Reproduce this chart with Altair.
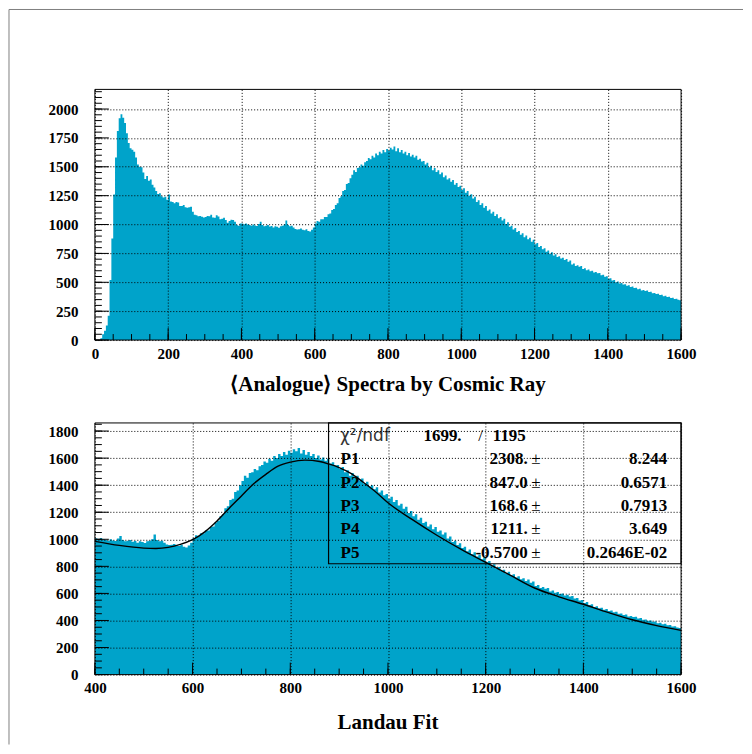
import altair as alt
import pandas as pd

# ---------------- data ----------------
BIN_WIDTH = 5  # ADC units per bin (coarsened)

c0000 = [0, 0, 0, 15, 50, 80, 125, 210, 520, 880, 1260, 1580, 1810, 1920, 1955, 1925, 1880, 1790, 1705, 1660]
c0100 = [1648, 1630, 1580, 1520, 1500, 1495, 1450, 1395, 1420, 1380, 1390, 1345, 1320, 1290, 1265, 1270, 1245, 1235, 1240, 1215]
c0200 = [1260, 1200, 1195, 1185, 1195, 1190, 1160, 1160, 1170, 1150, 1145, 1150, 1155, 1110, 1085, 1080, 1072, 1075, 1068, 1060]
c0300 = [1065, 1075, 1072, 1085, 1060, 1058, 1080, 1070, 1045, 1050, 1058, 1040, 1015, 1030, 1042, 1040, 1025, 995, 990, 1010]
c0400 = [1008, 1002, 1010, 1000, 995, 990, 1000, 992, 988, 1005, 1025, 995, 985, 990, 995, 982, 988, 975, 985, 980]
c0500 = [972, 985, 990, 1000, 1035, 995, 985, 990, 975, 962, 958, 960, 965, 955, 950, 960, 945, 940, 955, 975]
c0600 = [1010, 1030, 1025, 1045, 1045, 1065, 1065, 1090, 1095, 1125, 1135, 1170, 1185, 1230, 1245, 1290, 1300, 1350, 1360, 1400]
c0700 = [1430, 1470, 1455, 1490, 1495, 1520, 1510, 1540, 1550, 1575, 1565, 1595, 1580, 1615, 1600, 1630, 1615, 1645, 1625, 1655]
c0800 = [1640, 1665, 1650, 1675, 1635, 1660, 1625, 1645, 1615, 1630, 1600, 1620, 1590, 1605, 1580, 1595, 1560, 1570, 1545, 1550]
c0900 = [1520, 1535, 1495, 1510, 1470, 1490, 1455, 1470, 1435, 1450, 1410, 1425, 1390, 1400, 1370, 1385, 1345, 1360, 1325, 1335]
c1000 = [1300, 1315, 1275, 1290, 1250, 1262, 1225, 1240, 1195, 1210, 1170, 1185, 1145, 1160, 1120, 1130, 1095, 1110, 1075, 1090]
c1100 = [1055, 1065, 1035, 1050, 1005, 1020, 980, 990, 958, 970, 935, 945, 912, 925, 890, 905, 872, 885, 852, 868]
c1200 = [830, 840, 805, 815, 785, 795, 765, 775, 748, 760, 732, 742, 718, 726, 705, 712, 692, 702, 678, 688]
c1300 = [655, 662, 640, 648, 635, 640, 615, 622, 605, 610, 595, 600, 585, 590, 578, 580, 562, 566, 548, 552]
c1400 = [530, 536, 515, 520, 500, 506, 490, 494, 480, 484, 470, 474, 460, 464, 450, 452, 440, 444, 430, 434]
c1500 = [425, 428, 415, 418, 405, 408, 398, 400, 390, 392, 380, 383, 372, 375, 365, 367, 355, 358, 348, 345]

counts = (c0000 + c0100 + c0200 + c0300 + c0400 + c0500 + c0600 + c0700
          + c0800 + c0900 + c1000 + c1100 + c1200 + c1300 + c1400 + c1500)

# Landau fit curve
fit_x = [400, 450, 500, 525, 550, 575, 600, 625, 650, 675, 700, 725, 750, 775, 800, 830, 860,
         880, 900, 925, 950, 975, 1000, 1050, 1100, 1150, 1200, 1250, 1300, 1350, 1400, 1450,
         1500, 1550, 1600]
fit_y = [985, 955, 935, 932, 940, 962, 997, 1055, 1135, 1230, 1320, 1410, 1480, 1540, 1570, 1585,
         1575, 1555, 1530, 1485, 1420, 1350, 1270, 1145, 1030, 925, 830, 735, 640, 575, 520, 460,
         405, 362, 327]

# stats box
chi_label = "χ²/ndf"
chi_value = "1699."
ndf_value = "1195"
par_names = ["P1", "P2", "P3", "P4", "P5"]
par_values = ["2308.", "847.0", "168.6", "1211.", "-0.5700"]
par_errors = ["8.244", "0.6571", "0.7913", "3.649", "0.2646E-02"]

# axes
top_x_ticks = [0, 200, 400, 600, 800, 1000, 1200, 1400, 1600]
top_y_ticks = [0, 250, 500, 750, 1000, 1250, 1500, 1750, 2000]
bot_x_ticks = [400, 600, 800, 1000, 1200, 1400, 1600]
bot_y_ticks = [0, 200, 400, 600, 800, 1000, 1200, 1400, 1600, 1800]
top_x_minor = list(range(0, 1601, 50))
top_y_minor = list(range(0, 2151, 50))
bot_x_minor = list(range(400, 1601, 50))
bot_y_minor = list(range(0, 1851, 50))

top_title = "⟨Analogue⟩ Spectra by Cosmic Ray"
bot_title = "Landau Fit"

# ---------------- tables ----------------
edges = [i * BIN_WIDTH for i in range(len(counts))]
hist = pd.DataFrame({"x": edges + [edges[-1] + BIN_WIDTH], "n": counts + [counts[-1]]})
hist_fit = hist[hist["x"] >= 400].reset_index(drop=True)
fit = pd.DataFrame({"x": fit_x, "n": fit_y})
dummy = pd.DataFrame({"d": [0]})

# ---------------- style ----------------
FILL = "#00A3CA"
FONT = "Liberation Serif"
W = 587
H_TOP = 251
H_BOT = 252

AX = dict(grid=True, gridColor="black", gridDash=[1, 2], gridOpacity=1, gridWidth=1,
          ticks=False, tickSize=0, domain=False, labelFont=FONT, labelFontWeight="bold",
          labelFontSize=15, labelColor="black", labelFlush=False, labelOverlap=False,
          title=None, zindex=1, format="d")


def txt(s, x, y, align="left", font=FONT, weight="bold", size=17, color="black", baseline="middle"):
    return alt.Chart(dummy).mark_text(text=s, align=align, baseline=baseline, font=font,
                                      fontWeight=weight, fontSize=size, color=color).encode(
        x=alt.value(x), y=alt.value(y))


def panel(df, x_dom, y_dom, xt, yt, xm, ym, h, title, title_dy):
    xs = alt.Scale(domain=x_dom, nice=False, zero=False)
    ys = alt.Scale(domain=y_dom, nice=False, zero=False)
    ax = alt.Axis(values=xt, labelPadding=6, **AX)
    ay = alt.Axis(values=yt, labelPadding=17, **AX)
    X = lambda: alt.X("x:Q", scale=xs, axis=ax)
    Y = lambda: alt.Y("n:Q", scale=ys, axis=ay)
    area = alt.Chart(df).mark_area(interpolate="step-after", color=FILL, opacity=1, clip=True).encode(
        x=X(), y=Y())
    layers = [area]
    for vals, length in ((xm, 6), (xt, 12)):
        layers.append(alt.Chart(pd.DataFrame({"x": vals})).mark_rule(color="black", strokeWidth=1).encode(
            x=X(), y=alt.value(h), y2=alt.value(h - length)))
    for vals, length in ((ym, 7), (yt, 14)):
        layers.append(alt.Chart(pd.DataFrame({"n": vals})).mark_rule(color="black", strokeWidth=1).encode(
            y=Y(), x=alt.value(0), x2=alt.value(length)))
    layers.append(alt.Chart(dummy).mark_rect(filled=False, stroke="black", strokeWidth=1).encode(
        x=alt.value(0), x2=alt.value(W), y=alt.value(0), y2=alt.value(h)))
    layers.append(txt(title, W / 2, h + title_dy, align="center", size=21, baseline="alphabetic"))
    return layers, X, Y


# canvas border (ROOT pad frame)
border_top = alt.Chart(dummy).mark_rule(color="#808080", strokeWidth=1).encode(
    x=alt.value(-86), x2=alt.value(649), y=alt.value(-80))
border_left = alt.Chart(dummy).mark_rule(color="#808080", strokeWidth=1).encode(
    x=alt.value(-86), y=alt.value(-80), y2=alt.value(656))

top_layers, _, _ = panel(hist, [0, 1600], [0, 2170], top_x_ticks, top_y_ticks, top_x_minor,
                         top_y_minor, H_TOP, top_title, 51)
top = alt.layer(*top_layers, border_top, border_left).properties(width=W, height=H_TOP)

# lower panel
bot_layers, BX, BY = panel(hist_fit, [400, 1600], [0, 1860], bot_x_ticks, bot_y_ticks, bot_x_minor,
                           bot_y_minor, H_BOT, bot_title, 54.5)
curve = alt.Chart(fit).mark_line(color="black", strokeWidth=1.4, interpolate="monotone").encode(
    x=BX(), y=BY())

BOX_X = 234
BOX_H = 141
stats = [alt.Chart(dummy).mark_rect(filled=False, stroke="black", strokeWidth=1.2).encode(
    x=alt.value(BOX_X), x2=alt.value(W), y=alt.value(0), y2=alt.value(BOX_H))]
stats.append(txt(chi_label, 245.5, 13, font="DejaVu Sans", weight="normal", size=17, color="#333333"))
stats.append(txt(chi_value, 329, 13))
stats.append(txt("/", 384, 13, weight="normal"))
stats.append(txt(ndf_value, 398.5, 13))
for i, (nm, v, e) in enumerate(zip(par_names, par_values, par_errors)):
    yy = 36.3 + i * 23.4
    stats.append(txt(nm, 246, yy))
    stats.append(txt(v, 433.5, yy, align="right"))
    stats.append(txt("±", 437, yy, weight="normal"))
    stats.append(txt(e, 573.2, yy, align="right"))

bottom = alt.layer(*bot_layers, curve, *stats).properties(width=W, height=H_BOT)

chart = alt.vconcat(top, bottom, spacing=83, bounds="flush").properties(
    padding=0, background="white"
).configure_view(strokeWidth=0)

chart.save("out.html", embed_options={"renderer": "svg", "actions": False})
